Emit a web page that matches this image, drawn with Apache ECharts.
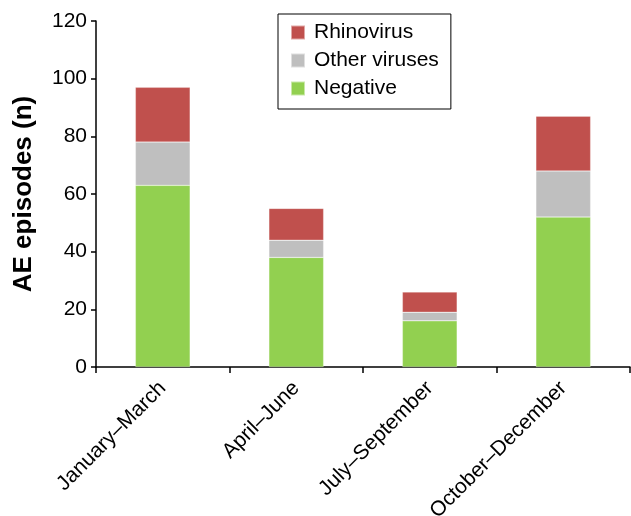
<!DOCTYPE html>
<html><head><meta charset="utf-8">
<script src="https://cdn.jsdelivr.net/npm/echarts@6/dist/echarts.min.js"></script>
<style>html,body{margin:0;padding:0;background:#fff}#c{width:631px;height:516px}</style>
</head><body><div id="c"></div>
<script>
const categories = ['January–March', 'April–June', 'July–September', 'October–December'];
const negative = [63, 38, 16, 52];
const otherViruses = [15, 6, 3, 16];
const rhinovirus = [19, 11, 7, 19];
const yTicks = { min: 0, max: 120, interval: 20 };

const font = 'Arial, "Liberation Sans", sans-serif';
const chart = echarts.init(document.getElementById('c'), null, { renderer: 'canvas' });
const mk = (name, data, color) => ({
  name, type: 'bar', stack: 'total', data, barWidth: '41%',
  itemStyle: { color, borderColor: 'rgba(255,255,255,0.5)', borderWidth: 0.5 },
  emphasis: { disabled: true }
});
chart.setOption({
  animation: false,
  textStyle: { fontFamily: font },
  grid: { left: 96, top: 21, right: 1, bottom: 149, containLabel: false, outerBoundsMode: 'none' },
  legend: {
    orient: 'vertical', left: 278, top: 14,
    data: ['Rhinovirus', 'Other viruses', 'Negative'],
    itemWidth: 14, itemHeight: 14, itemGap: 7,
    padding: [8, 12, 10, 12],
    borderColor: '#000', borderWidth: 1,
    icon: 'rect',
    textStyle: { fontSize: 21, color: '#000', fontFamily: font, padding: [0, 0, 0, 4] }
  },
  xAxis: {
    type: 'category', data: categories,
    axisLine: { lineStyle: { color: '#000', width: 1.5 } },
    axisTick: { show: true, length: 6, lineStyle: { color: '#000', width: 1.5 } },
    axisLabel: { rotate: 45, fontSize: 21, color: '#000', margin: 18, fontFamily: font, interval: 0 }
  },
  yAxis: {
    type: 'value', min: yTicks.min, max: yTicks.max, interval: yTicks.interval,
    name: 'AE episodes (n)', nameLocation: 'middle', nameGap: 59,
    nameTextStyle: { fontSize: 26, fontWeight: 'bold', color: '#000', fontFamily: font },
    axisLine: { show: true, lineStyle: { color: '#000', width: 1.5 } },
    axisTick: { show: true, length: 5, lineStyle: { color: '#000', width: 1.5 } },
    axisLabel: { fontSize: 21, color: '#000', margin: 9, fontFamily: font },
    splitLine: { show: false }
  },
  series: [
    mk('Negative', negative, '#92D050'),
    mk('Other viruses', otherViruses, '#BFBFBF'),
    mk('Rhinovirus', rhinovirus, '#C0504D')
  ]
});
</script></body></html>
